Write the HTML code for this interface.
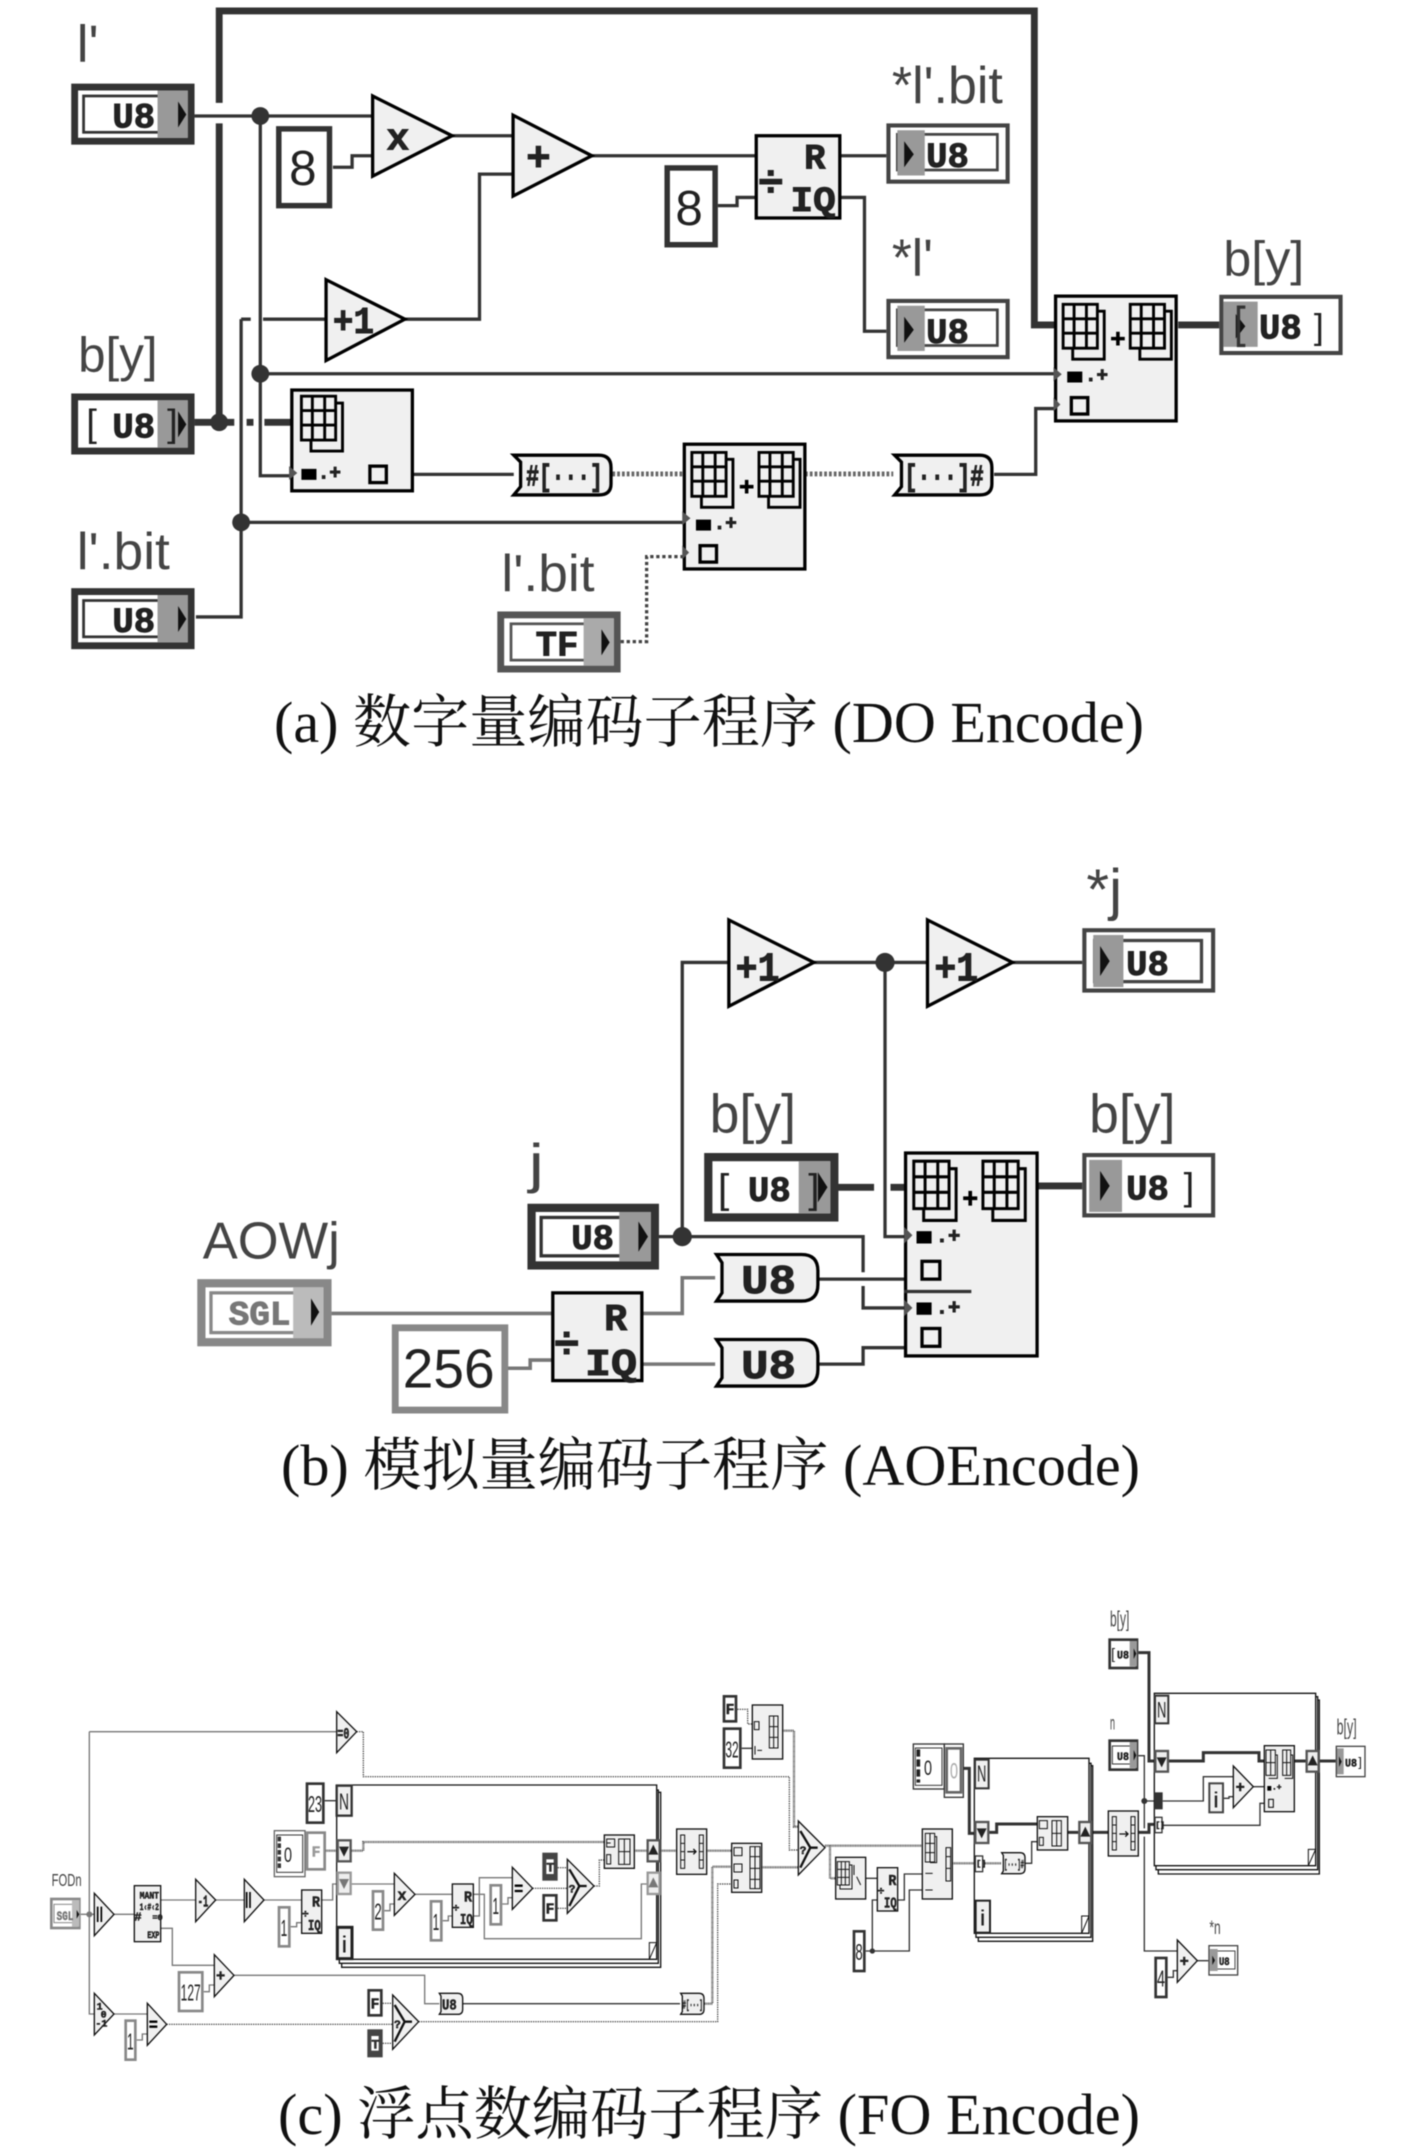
<!DOCTYPE html>
<html><head><meta charset="utf-8"><style>
html,body{margin:0;padding:0;background:#fff}
svg{display:block;filter:blur(.4px)}
.w{fill:none;stroke:#333;stroke-width:2.4}
.t{fill:none;stroke:#333;stroke-width:5}
.dt{fill:none;stroke:#444;stroke-width:2.4;stroke-dasharray:2.4 2}
.pt{fill:none;stroke:#666;stroke-width:3.5;stroke-dasharray:2 1.5}
.gw{fill:none;stroke:#777;stroke-width:2.6}
.b{fill:#f0f0f0;stroke:#000;stroke-width:2.4}
.i{fill:none;stroke:#000;stroke-width:2.1}
.lab{font-family:"Liberation Sans",sans-serif;fill:#444}
.m{font-family:"Liberation Mono",monospace;font-weight:bold;fill:#222;stroke:#222;stroke-width:.7}
.c .m{stroke-width:1.6}
.s{font-family:"Liberation Sans",sans-serif;fill:#222}
.cap{font-family:"Liberation Serif","Noto Serif CJK SC",serif;fill:#111;font-size:58px}
.cw{fill:none;stroke:#333;stroke-width:4}
.cv{fill:none;stroke:#777;stroke-width:4}
.ct{fill:none;stroke:#333;stroke-width:9}
.cd{fill:none;stroke:#333;stroke-width:3.5;stroke-dasharray:4 3}
.cp{fill:none;stroke:#555;stroke-width:7;stroke-dasharray:3 2}
.cb{fill:#f0f0f0;stroke:#111;stroke-width:4}
.ci{fill:none;stroke:#111;stroke-width:3}
.kg{fill:#fff;stroke:#888;stroke-width:8}
.kd{fill:#fff;stroke:#333;stroke-width:8}
.f{fill:none;stroke:#111;stroke-width:4}
</style></head><body>
<svg xmlns="http://www.w3.org/2000/svg" width="1417" height="2150" viewBox="0 0 1417 2150">
<defs>
<g id="grid"><path class="i" d="M0 0h25v32h-25z M8 0v32 M17 0v32 M0 10.5h25 M0 21h25 M25 5h5v35h-23v-8"/></g>
<g id="ctin"><rect x="2.5" y="2.5" width="85" height="39.5" fill="#fff" stroke="#333" stroke-width="5"/><rect x="9" y="9" width="70" height="26.5" fill="none" stroke="#333" stroke-width="2"/><rect x="63" y="5" width="22" height="34.5" fill="#999"/><path d="M78 13l6 9.5l-6 9.5z" fill="#111"/></g>
<g id="ctout"><rect x="1.5" y="1.5" width="87" height="41" fill="#fff" stroke="#444" stroke-width="3"/><rect x="8" y="8" width="73" height="26" fill="none" stroke="#444" stroke-width="2"/><rect x="8" y="5" width="20" height="33" fill="#999"/><path d="M13 13l7 9.5l-7 9.5z" fill="#111"/></g>
<g id="rep"><use href="#grid"/><use href="#grid" transform="translate(49,0)"/><path d="M35 25h10M40 20v10" stroke="#000" stroke-width="2.6"/></g>
</defs>

<!-- (a) -->
<g transform="scale(1.37,1.371)">
<path class="t" d="M160 75V8H755V237H770 M160 90V308 M142 308H171 M180 308H185 M193 308H213 M860 237H890"/>
<path class="w" d="M142 84.6H272 M190 84.6V347H213 M190 272.6H770 M243 122H257V113.6H272 M330 99H374 M432 113.6H552 M176 232.8H183 M192 232.8H238 M295.5 232.8H350V127H374 M176 232.8V450H143 M176 381H499 M302 346H375 M524 150H538V144H552 M613 113.6H647 M613 144H631V241.6H647 M725.6 346H756V298H770"/>
<path class="pt" d="M447 345.7H499 M587.6 345.7H652"/>
<path class="dt" d="M453 468H472V406H499"/>
<circle cx="190" cy="84.6" r="6.5" fill="#333"/><circle cx="160" cy="308" r="6.5" fill="#333"/><circle cx="190" cy="272.6" r="6.5" fill="#333"/><circle cx="176" cy="381" r="6.5" fill="#333"/>

<text class="lab" x="56" y="45" font-size="38" textLength="16" lengthAdjust="spacingAndGlyphs">l'</text>
<text class="lab" x="57" y="271" font-size="36" textLength="58" lengthAdjust="spacingAndGlyphs">b[y]</text>
<text class="lab" x="56" y="415" font-size="38" textLength="68" lengthAdjust="spacingAndGlyphs">l'.bit</text>
<text class="lab" x="366" y="431" font-size="38" textLength="68" lengthAdjust="spacingAndGlyphs">l'.bit</text>
<text class="lab" x="651" y="75" font-size="38" textLength="81" lengthAdjust="spacingAndGlyphs">*l'.bit</text>
<text class="lab" x="651" y="201" font-size="38" textLength="30" lengthAdjust="spacingAndGlyphs">*l'</text>
<text class="lab" x="893" y="201" font-size="36" textLength="59" lengthAdjust="spacingAndGlyphs">b[y]</text>

<use href="#ctin" x="52" y="61"/><text class="m" x="82" y="93" font-size="26">U8</text>
<g transform="translate(52,287)"><rect x="2.5" y="2.5" width="85" height="39.5" fill="#fff" stroke="#333" stroke-width="5"/><rect x="63" y="5" width="22" height="34.5" fill="#999"/><path d="M78 13l6 9.5l-6 9.5z" fill="#111"/><text class="s" x="11" y="31" font-size="28">[</text><text class="s" x="70" y="31" font-size="28">]</text><text class="m" x="30" y="32" font-size="26">U8</text></g>
<use href="#ctin" x="52" y="429"/><text class="m" x="82" y="461" font-size="26">U8</text>
<g transform="translate(363,446)"><rect x="2.5" y="2.5" width="85" height="39.5" fill="#fff" stroke="#555" stroke-width="5"/><rect x="10" y="9" width="68" height="26.5" fill="none" stroke="#555" stroke-width="2"/><rect x="63" y="5" width="22" height="34.5" fill="#aaa"/><path d="M76 13l6 9.5l-6 9.5z" fill="#111"/><text class="m" x="28" y="32" font-size="26" fill="#444">TF</text></g>

<use href="#ctout" x="647" y="90"/><text class="m" x="676" y="122" font-size="26">U8</text>
<use href="#ctout" x="647" y="218"/><text class="m" x="676" y="250" font-size="26">U8</text>
<g transform="translate(890,215)"><rect x="1.5" y="1.5" width="87" height="41" fill="#fff" stroke="#444" stroke-width="3"/><rect x="3" y="5" width="25" height="33" fill="#999"/><path d="M12 14l7 9l-7 9z" fill="#111"/><path class="w" d="M19 9h-5v28h5"/><text class="m" x="29" y="32" font-size="26">U8</text><text class="s" x="69" y="32" font-size="26">]</text></g>

<rect x="203.5" y="94" width="37" height="56" fill="#fff" stroke="#333" stroke-width="4"/><text class="s" x="211" y="135" font-size="36">8</text>
<rect x="487" y="122.5" width="35" height="56" fill="#fff" stroke="#333" stroke-width="4"/><text class="s" x="493" y="164" font-size="36">8</text>

<polygon class="b" points="272,70 330,99 272,128.5"/><text class="m" x="282" y="109" font-size="28">x</text>
<polygon class="b" points="374.5,84 432,113.6 374.5,143"/><text class="m" x="384" y="124" font-size="30">+</text>
<polygon class="b" points="238,204 295.5,232.8 238,263"/><text class="m" x="243" y="243" font-size="28" textLength="30" lengthAdjust="spacingAndGlyphs">+1</text>

<rect class="b" x="552" y="99" width="61" height="60"/><text class="m" x="587" y="123" font-size="26">R</text><text class="m" x="577" y="154" font-size="26" textLength="33" lengthAdjust="spacingAndGlyphs">IQ</text><text class="m" x="553" y="143" font-size="32">÷</text>

<rect class="b" x="213" y="284.5" width="88" height="73.5"/><use href="#grid" x="220" y="289"/><path d="M211 340l6 5l-6 5z" fill="#555"/><rect x="220" y="342" width="11" height="8" fill="#000"/><text class="m" x="232" y="349" font-size="14">.+</text><rect x="270" y="340" width="12" height="12" fill="none" stroke="#000" stroke-width="2.4"/>

<g><path class="b" d="M375 332h62q9 0 9 9v12q0 8 -9 8h-62l5 -6v-18z"/><text class="m" x="384" y="354" font-size="22" textLength="56" lengthAdjust="spacingAndGlyphs">#[···]</text></g>
<g><path class="b" d="M653 332h62q9 0 9 9v12q0 8 -9 8h-62l5 -6v-18z"/><text class="m" x="660" y="354" font-size="22" textLength="58" lengthAdjust="spacingAndGlyphs">[···]#</text></g>

<rect class="b" x="499.5" y="324" width="88" height="91"/><use href="#rep" x="505" y="330"/><path d="M498 373l6 5l-6 5z" fill="#555"/><rect x="508" y="379" width="11" height="8" fill="#000"/><text class="m" x="521" y="386" font-size="14">.+</text><path d="M498 398l5 5l-5 5z" fill="#555"/><rect x="511" y="398" width="12" height="12" fill="none" stroke="#000" stroke-width="2.4"/>
<rect class="b" x="770.5" y="216" width="88" height="91"/><use href="#rep" x="776" y="222"/><path d="M769 268l6 5l-6 5z" fill="#555"/><rect x="779" y="271" width="11" height="8" fill="#000"/><text class="m" x="792" y="278" font-size="14">.+</text><path d="M769 290l5 5l-5 5z" fill="#555"/><rect x="782" y="290" width="12" height="12" fill="none" stroke="#000" stroke-width="2.4"/>
</g>

<!-- (b) -->
<g transform="scale(1.37,1.371)">
<path class="t" d="M609 866H638 M650 866H662 M756 865H790"/>
<path class="w" d="M481 902H630V928 M630 938V954H663 M498 902V702H531 M593 702H676 M646 702V902H663 M737 702H790 M598 933H660 M598 995H630V983H660"/>
<path class="gw" d="M242 958H403 M468 958H498V932H522 M468 995H522 M370 998H387V992H403"/>
<circle cx="498" cy="902" r="7" fill="#333"/><circle cx="646" cy="702" r="7" fill="#333"/>

<text class="lab" x="793" y="663" font-size="42" textLength="26" lengthAdjust="spacingAndGlyphs">*j</text>
<text class="lab" x="518" y="826" font-size="40" textLength="63" lengthAdjust="spacingAndGlyphs">b[y]</text>
<text class="lab" x="795" y="826" font-size="40" textLength="63" lengthAdjust="spacingAndGlyphs">b[y]</text>
<text class="lab" x="386" y="862" font-size="40" textLength="11" lengthAdjust="spacingAndGlyphs">j</text>
<text class="lab" x="148" y="918" font-size="38" textLength="100" lengthAdjust="spacingAndGlyphs">AOWj</text>

<polygon class="b" points="532,671 594,702 532,734"/><text class="m" x="537" y="715" font-size="30" textLength="32" lengthAdjust="spacingAndGlyphs">+1</text>
<polygon class="b" points="677,671 739,702 677,734"/><text class="m" x="682" y="715" font-size="30" textLength="32" lengthAdjust="spacingAndGlyphs">+1</text>

<g transform="translate(790,677)"><rect x="1.5" y="1.5" width="94" height="44" fill="#fff" stroke="#444" stroke-width="3"/><rect x="9" y="9" width="78" height="30" fill="none" stroke="#444" stroke-width="2.4"/><rect x="8" y="5" width="22" height="38" fill="#999"/><path d="M13 13l7 11l-7 11z" fill="#111"/><text class="m" x="32" y="34" font-size="26">U8</text></g>
<g transform="translate(790,841)"><rect x="1.5" y="1.5" width="94" height="44" fill="#fff" stroke="#444" stroke-width="3"/><rect x="5" y="5" width="24" height="38" fill="#999"/><path d="M13 13l7 11l-7 11z" fill="#111"/><text class="m" x="32" y="34" font-size="26">U8</text><text class="s" x="74" y="34" font-size="28">]</text></g>
<g transform="translate(514,841)"><rect x="3" y="3" width="92" height="44" fill="#fff" stroke="#333" stroke-width="6"/><rect x="69" y="6" width="23" height="38" fill="#999"/><path d="M83 14l7 11l-7 11z" fill="#111"/><text class="s" x="10" y="36" font-size="30">[</text><text class="s" x="76" y="36" font-size="30">]</text><text class="m" x="32" y="35" font-size="26">U8</text></g>
<g transform="translate(385,878)"><rect x="3" y="3" width="90" height="42" fill="#fff" stroke="#333" stroke-width="6"/><rect x="10" y="10" width="76" height="28" fill="none" stroke="#333" stroke-width="2.4"/><rect x="67" y="6" width="23" height="36" fill="#999"/><path d="M81 13l7 11l-7 11z" fill="#111"/><text class="m" x="32" y="33" font-size="26">U8</text></g>
<g transform="translate(144,933)"><rect x="3" y="3" width="92" height="43" fill="#fff" stroke="#888" stroke-width="6"/><rect x="10" y="10" width="78" height="29" fill="none" stroke="#888" stroke-width="2.4"/><rect x="70" y="6" width="22" height="37" fill="#bbb"/><path d="M83 14l6 10l-6 10z" fill="#111"/><text class="m" x="23" y="33" font-size="25" style="fill:#777;stroke:#777">SGL</text></g>

<rect x="288.5" y="968.5" width="80" height="60" fill="#fff" stroke="#888" stroke-width="5"/><text class="s" x="294" y="1012" font-size="40" textLength="67" lengthAdjust="spacingAndGlyphs">256</text>

<rect class="b" x="403.5" y="943" width="65" height="64"/><text class="m" x="441" y="970" font-size="28">R</text><text class="m" x="427" y="1003" font-size="28" textLength="38" lengthAdjust="spacingAndGlyphs">IQ</text><text class="m" x="404" y="990" font-size="32">÷</text>

<g><path class="b" d="M523 915h62q12 0 12 12v10q0 12 -12 12h-62l4 -6v-22z"/><text class="m" x="541" y="943" font-size="30" textLength="40" lengthAdjust="spacingAndGlyphs">U8</text></g>
<g><path class="b" d="M523 977h62q12 0 12 12v10q0 12 -12 12h-62l4 -6v-22z"/><text class="m" x="541" y="1005" font-size="30" textLength="40" lengthAdjust="spacingAndGlyphs">U8</text></g>

<rect class="b" x="661" y="841" width="96" height="148"/><use href="#rep" transform="translate(667,847) scale(1.03,1.08)"/><path d="M660 895l6 6l-6 6z" fill="#555"/><rect x="669" y="898" width="11" height="9" fill="#000"/><text class="m" x="683" y="906" font-size="15">.+</text><rect x="673" y="920" width="13" height="13" fill="none" stroke="#000" stroke-width="2.4"/><path d="M660 948l6 6l-6 6z" fill="#555"/><rect x="669" y="950" width="11" height="9" fill="#000"/><text class="m" x="683" y="958" font-size="15">.+</text><rect x="673" y="969" width="13" height="13" fill="none" stroke="#000" stroke-width="2.4"/>
<path class="w" d="M660 942H709"/>
</g>

<!-- (c) -->
<g class="c" transform="translate(30,1680) scale(0.33333)">
<!-- wires -->
<path class="cv" d="M152 703H193 M178 155V1002H193 M178 155H920 M252 703H313 M392 660H497 M557 660H643 M702 660H815 M782 740H800V728H815 M875 660H908V612H920 M392 745H427V856H553 M521 935H538V915H553 M612 886H1184V971H1228 M252 1002H352 M320 1080H337V1062H352 M965 612H1093 M1063 692H1080V672H1093 M1155 643H1267 M1238 722H1255V708H1267 M1330 708H1348V593H1447 M1330 643H1363V776H1834V612H1850 M1417 672H1434V653H1447"/>
<circle cx="178" cy="703" r="9" fill="#777"/>
<path class="cw" d="M1298 971H1950 M884 362H920"/>
<path class="cd" d="M410 1033H1088 M1058 970H1088 M1058 1090H1088 M1166 1025H2063V612H2105 M980 155H1000V290H2278V510H2305 M1508 625H1612 M1583 563H1612 M1583 685H1612 M1692 618H1708V540H1725 M2122 88H2153V132H2167"/>
<path class="cp" d="M887 512H920 M965 512H1000V486H1725 M1813 512H1850 M1892 512H1940 M2030 512H2105 M2024 971H2047V560H2105 M2195 562H2305 M2258 152H2292V440H2305 M2385 497H2677 M2400 497V595H2417 M2767 550H2835 M2860 550H2915"/>
<path class="cw" d="M2135 205H2167 M2507 595H2542 M2603 660H2623V582H2677 M2507 813H2638V630H2677 M2527 813V660H2542 M2985 550H3005V485H3022"/>
<circle cx="2527" cy="813" r="8" fill="#333"/>
<path class="ct" d="M2790 265H2818V460H2833 M2878 457H2900V432H3022 M3113 457H3145 M3187 457H3235 M3325 -82H3357V243H3373 M3417 243H3520V218H3687V243H3703 M3793 243H3827 M3868 243H3917 M3325 457H3357V433H3373"/>
<path class="cw" d="M3325 227H3343V445 M3343 470V813H3442 M3343 363H3373 M3398 363H3520V290H3610 M3582 355H3597V350H3610 M3670 320H3703 M3398 436H3690V370H3703 M3413 892H3430V872H3442 M3502 842H3535"/>
<circle cx="3343" cy="363" r="9" fill="#333"/>

<!-- labels -->
<text class="lab" x="65" y="618" font-size="54" textLength="90" lengthAdjust="spacingAndGlyphs">FODn</text>
<text class="lab" x="3240" y="-160" font-size="66" textLength="58" lengthAdjust="spacingAndGlyphs">b[y]</text>
<text class="lab" x="3240" y="148" font-size="58" textLength="15" lengthAdjust="spacingAndGlyphs">n</text>
<text class="lab" x="3920" y="163" font-size="66" textLength="60" lengthAdjust="spacingAndGlyphs">b[y]</text>
<text class="lab" x="3538" y="762" font-size="58" textLength="34" lengthAdjust="spacingAndGlyphs">*n</text>

<!-- FODn -->
<rect class="kg" x="64" y="657" width="84" height="87"/><rect x="72" y="673" width="60" height="55" fill="none" stroke="#888" stroke-width="3"/><rect x="126" y="660" width="22" height="80" fill="#bbb"/><path d="M140 690l8 13l-8 13z" fill="#111"/><text class="m" x="80" y="720" font-size="38" textLength="50" lengthAdjust="spacingAndGlyphs" style="fill:#777;stroke:#777">SGL</text>

<!-- triangles -->
<polygon class="cb" points="193,640 252,703 193,767"/><path d="M203 680v46M214 680v46" stroke="#000" stroke-width="5"/>
<polygon class="cb" points="193,940 252,1002 193,1065"/><text class="m" x="200" y="988" font-size="30">1</text><text class="m" x="212" y="1012" font-size="30">0</text><text class="m" x="196" y="1040" font-size="30">-1</text>
<polygon class="cb" points="352,970 410,1033 352,1096"/><path d="M358 1025h24M358 1040h24" stroke="#000" stroke-width="7"/>
<polygon class="cb" points="497,598 557,660 497,725"/><text class="m" x="503" y="680" font-size="50" textLength="32" lengthAdjust="spacingAndGlyphs">-1</text>
<polygon class="cb" points="643,598 702,660 643,725"/><path d="M650 636v48M660 636v48" stroke="#000" stroke-width="5"/>
<polygon class="cb" points="553,824 612,886 553,950"/><text class="m" x="558" y="902" font-size="46">+</text>
<polygon class="cb" points="920,95 980,155 920,218"/><text class="m" x="922" y="176" font-size="46" textLength="36" lengthAdjust="spacingAndGlyphs">=0</text>
<polygon class="cb" points="1093,580 1155,643 1093,706"/><text class="m" x="1102" y="660" font-size="46">x</text>
<polygon class="cb" points="1447,562 1508,625 1447,688"/><path d="M1454 617h24M1454 633h24" stroke="#000" stroke-width="7"/>
<polygon class="cb" points="3610,258 3670,320 3610,383"/><text class="m" x="3617" y="336" font-size="46">+</text>
<polygon class="cb" points="3442,780 3502,842 3442,907"/><text class="m" x="3449" y="858" font-size="46">+</text>

<!-- selects -->
<g><polygon class="cb" points="1088,945 1166,1025 1088,1108"/><path d="M1094 975l30 50l-30 60M1124 1025h22" class="ci" style="stroke-width:7"/><text class="m" x="1092" y="1044" font-size="34">?</text></g>
<g><polygon class="cb" points="1612,538 1692,618 1612,700"/><path d="M1618 568l30 50l-30 60M1648 618h22" class="ci" style="stroke-width:7"/><text class="m" x="1616" y="637" font-size="34">?</text></g>
<g><polygon class="cb" points="2305,423 2385,503 2305,585"/><path d="M2311 453l30 50l-30 60M2341 503h22" class="ci" style="stroke-width:7"/><text class="m" x="2309" y="522" font-size="34">?</text></g>

<!-- MANT -->
<rect class="cb" x="313" y="617" width="79" height="168"/><text class="m" x="329" y="655" font-size="30" textLength="58" lengthAdjust="spacingAndGlyphs">MANT</text><text class="m" x="329" y="690" font-size="30" textLength="58" lengthAdjust="spacingAndGlyphs">1‹#‹2</text><text class="m" x="367" y="720" font-size="26">=0</text><text class="m" x="313" y="722" font-size="36">#</text><text class="m" x="352" y="774" font-size="30" textLength="36" lengthAdjust="spacingAndGlyphs">EXP</text>

<!-- R/Q blocks -->
<rect class="cb" x="815" y="630" width="60" height="130"/><text class="m" x="846" y="680" font-size="44" textLength="24" lengthAdjust="spacingAndGlyphs">R</text><text class="m" x="834" y="750" font-size="44" textLength="38" lengthAdjust="spacingAndGlyphs">IQ</text><text class="m" x="816" y="712" font-size="34">÷</text>
<rect class="cb" x="1267" y="612" width="63" height="130"/><text class="m" x="1302" y="664" font-size="44" textLength="24" lengthAdjust="spacingAndGlyphs">R</text><text class="m" x="1290" y="732" font-size="44" textLength="38" lengthAdjust="spacingAndGlyphs">IQ</text><text class="m" x="1268" y="694" font-size="34">÷</text>
<rect class="cb" x="2542" y="563" width="61" height="130"/><text class="m" x="2575" y="615" font-size="44" textLength="24" lengthAdjust="spacingAndGlyphs">R</text><text class="m" x="2562" y="682" font-size="44" textLength="38" lengthAdjust="spacingAndGlyphs">IQ</text><text class="m" x="2543" y="644" font-size="34">÷</text>

<!-- constants -->
<rect class="kg" x="747" y="682" width="31" height="117"/><text class="s" x="752" y="768" font-size="70" textLength="20" lengthAdjust="spacingAndGlyphs">1</text>
<rect class="kg" x="447" y="877" width="70" height="116"/><text class="s" x="452" y="962" font-size="70" textLength="60" lengthAdjust="spacingAndGlyphs">127</text>
<rect class="kg" x="287" y="1022" width="29" height="117"/><text class="s" x="291" y="1108" font-size="70" textLength="20" lengthAdjust="spacingAndGlyphs">1</text>
<rect class="kd" x="831" y="311" width="49" height="117"/><text class="s" x="834" y="396" font-size="70" textLength="42" lengthAdjust="spacingAndGlyphs">23</text>
<rect class="kg" x="1029" y="634" width="30" height="115"/><text class="s" x="1033" y="718" font-size="70" textLength="22" lengthAdjust="spacingAndGlyphs">2</text>
<rect class="kg" x="1203" y="664" width="31" height="117"/><text class="s" x="1208" y="750" font-size="70" textLength="20" lengthAdjust="spacingAndGlyphs">1</text>
<rect class="kg" x="1382" y="616" width="31" height="117"/><text class="s" x="1387" y="702" font-size="70" textLength="20" lengthAdjust="spacingAndGlyphs">1</text>
<rect class="kd" x="2082" y="146" width="49" height="117"/><text class="s" x="2086" y="232" font-size="70" textLength="40" lengthAdjust="spacingAndGlyphs">32</text>
<rect class="kd" x="2472" y="754" width="31" height="119"/><text class="s" x="2476" y="840" font-size="70" textLength="22" lengthAdjust="spacingAndGlyphs">8</text>
<rect class="kd" x="3377" y="834" width="32" height="117"/><text class="s" x="3381" y="920" font-size="70" textLength="24" lengthAdjust="spacingAndGlyphs">4</text>

<!-- booleans -->
<rect class="kd" x="1016" y="931" width="38" height="75"/><text class="m" x="1022" y="985" font-size="44">F</text>
<rect x="1012" y="1048" width="46" height="84" fill="#444"/><rect x="1024" y="1068" width="22" height="44" fill="#fff"/><text class="m" x="1024" y="1105" font-size="40" style="fill:#333">T</text>
<rect x="1537" y="518" width="46" height="84" fill="#444"/><rect x="1549" y="538" width="22" height="44" fill="#fff"/><text class="m" x="1549" y="575" font-size="40" style="fill:#333">T</text>
<rect class="kd" x="1541" y="646" width="38" height="75"/><text class="m" x="1547" y="700" font-size="44">F</text>
<rect class="kd" x="2082" y="49" width="36" height="75"/><text class="m" x="2087" y="102" font-size="44">F</text>

<!-- loop 1 -->
<path class="f" d="M920 315H1880V838H920Z"/><path class="f" d="M928 838V850H1885V330H1880 M935 850V862H1892V337H1885"/><path d="M1858 838L1880 788H1858Z" fill="#fff" stroke="#111" stroke-width="3"/>
<rect x="920" y="317" width="45" height="90" fill="#f0f0f0" stroke="#333" stroke-width="7"/><text class="s" x="927" y="388" font-size="70" textLength="30" lengthAdjust="spacingAndGlyphs">N</text>
<rect x="733" y="452" width="92" height="138" fill="#fff" stroke="#666" stroke-width="4"/><rect x="740" y="465" width="78" height="112" fill="none" stroke="#333" stroke-width="3"/><path d="M748 470v100" stroke="#333" stroke-width="10" stroke-dasharray="14 6"/><text class="s" x="762" y="546" font-size="64" textLength="24" lengthAdjust="spacingAndGlyphs">0</text>
<rect x="831" y="458" width="53" height="110" fill="#fff" stroke="#888" stroke-width="8"/><text class="m" x="845" y="530" font-size="44" style="fill:#999;stroke:#999">F</text>
<rect x="923" y="481" width="39" height="63" fill="#eee" stroke="#555" stroke-width="7"/><path d="M927 500h30l-15 30z" fill="#222"/>
<rect x="923" y="578" width="39" height="64" fill="#eee" stroke="#999" stroke-width="7"/><path d="M927 597h30l-15 30z" fill="#777"/>
<rect x="922" y="742" width="44" height="94" fill="#f0f0f0" stroke="#222" stroke-width="9"/><text class="s" x="934" y="818" font-size="68" textLength="18" lengthAdjust="spacingAndGlyphs">i</text>
<rect x="1853" y="481" width="36" height="63" fill="#eee" stroke="#555" stroke-width="7"/><path d="M1855 524h30l-15 -30z" fill="#222"/>
<rect x="1853" y="578" width="36" height="64" fill="#eee" stroke="#999" stroke-width="7"/><path d="M1855 622h30l-15 -30z" fill="#777"/>

<!-- blocks -->
<rect class="cb" x="1723" y="465" width="90" height="100"/><path class="ci" d="M1730 477h24v24h-24z M1730 524h12v28h-12z M1742 489h-12 M1766 477h34v76h-34z M1783 477v76 M1766 515h34" />
<rect class="cb" x="1940" y="447" width="90" height="136"/><path class="ci" d="M1952 465h12v100h-12z M2008 465h12v100h-12z M1952 490h12 M1952 515h12 M1952 540h12 M2008 490h12 M2008 515h12 M2008 540h12"/><path d="M1972 515h26m-8 -8l8 8l-8 8" fill="none" stroke="#111" stroke-width="4"/>
<rect class="cb" x="2105" y="490" width="90" height="147"/><path class="ci" d="M2112 503h24v24h-24z M2112 552h24v24h-24z M2112 600h12v24h-12z M2160 500h30v126h-30z M2175 500v126 M2160 530h30 M2160 565h30 M2160 598h30"/>
<rect class="cb" x="2167" y="75" width="91" height="162"/><path class="ci" d="M2173 125h14v24h-14z M2218 108h26v96h-26z M2231 108v96 M2218 140h26 M2218 172h26 M2175 198v26 M2182 211h14"/>
<rect class="cb" x="2417" y="532" width="90" height="125"/><path class="ci" d="M2422 545h36v70h-36z M2434 545v70 M2446 545v70 M2422 568h36 M2422 592h36 M2458 555h8v72h-36v-12"/><path class="ci" d="M2472 555v30 M2480 590l12 25"/>
<rect class="cb" x="2677" y="447" width="90" height="210"/><path class="ci" d="M2686 460h28v86h-28z M2700 460v86 M2686 490h28 M2686 518h28 M2714 470h6v78h-20 M2748 503h14v100h-14z M2748 530h14 M2748 565h14 M2686 580h22 M2686 630h22"/>

<!-- casts -->
<path class="cb" d="M1228 940h55q15 0 15 15v33q0 15 -15 15h-55l5 -8v-47z"/><text class="m" x="1236" y="988" font-size="44" textLength="44" lengthAdjust="spacingAndGlyphs">U8</text>
<path class="cb" d="M1952 940h55q15 0 15 15v33q0 15 -15 15h-55l5 -8v-47z"/><text class="m" x="1958" y="986" font-size="36" textLength="60" lengthAdjust="spacingAndGlyphs">#[···]</text>
<path class="cb" d="M2915 518h55q15 0 15 15v33q0 15 -15 15h-55l5 -8v-47z"/><text class="m" x="2922" y="564" font-size="36" textLength="60" lengthAdjust="spacingAndGlyphs">[···]#</text>

<!-- loop 2 -->
<rect x="2650" y="192" width="93" height="135" fill="#fff" stroke="#333" stroke-width="4"/><rect x="2656" y="204" width="80" height="112" fill="none" stroke="#333" stroke-width="3"/><path d="M2665 208v100" stroke="#222" stroke-width="11" stroke-dasharray="22 8"/><text class="s" x="2682" y="285" font-size="64" textLength="24" lengthAdjust="spacingAndGlyphs">0</text>
<rect x="2743" y="192" width="57" height="160" fill="#fff" stroke="#333" stroke-width="4"/><rect x="2750" y="205" width="43" height="132" fill="#fff" stroke="#666" stroke-width="8"/><text class="s" x="2760" y="296" font-size="66" textLength="24" lengthAdjust="spacingAndGlyphs" style="fill:#aaa">0</text>
<path class="f" d="M2833 235H3177V760H2833Z"/><path class="f" d="M2838 760V772H3183V250H3177 M2845 772V784H3188V257H3183"/><path d="M3155 760L3177 708H3155Z" fill="#fff" stroke="#111" stroke-width="3"/>
<rect x="2835" y="239" width="41" height="86" fill="#f0f0f0" stroke="#333" stroke-width="6"/><text class="s" x="2841" y="305" font-size="68" textLength="28" lengthAdjust="spacingAndGlyphs">N</text>
<rect x="2836" y="426" width="39" height="63" fill="#eee" stroke="#555" stroke-width="7"/><path d="M2840 445h30l-15 30z" fill="#222"/>
<rect x="2836" y="528" width="22" height="47" fill="#fff" stroke="#333" stroke-width="4"/><text class="m" x="2838" y="558" font-size="26">[]</text>
<rect x="2837" y="662" width="43" height="96" fill="#f0f0f0" stroke="#222" stroke-width="6"/><text class="s" x="2849" y="736" font-size="66" textLength="18" lengthAdjust="spacingAndGlyphs">i</text>
<rect class="cb" x="3022" y="410" width="91" height="100"/><path class="ci" d="M3028 422h24v24h-24z M3028 472h12v24h-12z M3066 422h28v76h-28z M3080 422v76 M3066 460h28"/>
<rect x="3148" y="426" width="36" height="63" fill="#eee" stroke="#555" stroke-width="7"/><path d="M3151 470h30l-15 -30z" fill="#222"/>
<rect class="cb" x="3235" y="393" width="90" height="135"/><path class="ci" d="M3247 410h12v100h-12z M3303 410h12v100h-12z M3247 435h12 M3247 460h12 M3247 485h12 M3303 435h12 M3303 460h12 M3303 485h12"/><path d="M3268 462h26m-8 -8l8 8l-8 8" fill="none" stroke="#111" stroke-width="4"/>

<!-- right controls -->
<g transform="translate(3235,-125)"><rect x="4" y="4" width="82" height="85" fill="#fff" stroke="#333" stroke-width="8"/><rect x="64" y="8" width="22" height="76" fill="#999"/><path d="M76 30l8 16l-8 16z" fill="#111"/><text class="s" x="8" y="62" font-size="44">[</text><text class="m" x="26" y="60" font-size="34" textLength="36" lengthAdjust="spacingAndGlyphs">U8</text></g>
<g transform="translate(3235,178)"><rect x="4" y="4" width="82" height="87" fill="#fff" stroke="#333" stroke-width="8"/><rect x="12" y="20" width="66" height="54" fill="none" stroke="#333" stroke-width="3"/><rect x="64" y="8" width="22" height="78" fill="#999"/><path d="M76 32l8 16l-8 16z" fill="#111"/><text class="m" x="26" y="62" font-size="34" textLength="36" lengthAdjust="spacingAndGlyphs">U8</text></g>
<g transform="translate(3917,197)"><rect x="2" y="2" width="86" height="91" fill="#fff" stroke="#444" stroke-width="4"/><rect x="4" y="8" width="20" height="78" fill="#999"/><path d="M10 32l8 16l-8 16z" fill="#111"/><text class="m" x="28" y="62" font-size="34" textLength="36" lengthAdjust="spacingAndGlyphs">U8</text><text class="s" x="68" y="62" font-size="40">]</text></g>
<g transform="translate(3535,795)"><rect x="2" y="2" width="86" height="88" fill="#fff" stroke="#444" stroke-width="4"/><rect x="10" y="18" width="70" height="54" fill="none" stroke="#444" stroke-width="3"/><rect x="4" y="12" width="24" height="66" fill="#999"/><path d="M12 32l8 14l-8 14z" fill="#111"/><text class="m" x="32" y="60" font-size="32" textLength="32" lengthAdjust="spacingAndGlyphs">U8</text></g>

<!-- loop 3 -->
<path class="f" d="M3373 40H3857V557H3373Z"/><path class="f" d="M3378 557V569H3863V50H3857 M3385 569V582H3868V60H3863"/><path d="M3835 557L3857 508H3835Z" fill="#fff" stroke="#111" stroke-width="3"/>
<rect x="3375" y="47" width="40" height="83" fill="#f0f0f0" stroke="#333" stroke-width="6"/><text class="s" x="3381" y="112" font-size="66" textLength="28" lengthAdjust="spacingAndGlyphs">N</text>
<rect x="3376" y="213" width="38" height="62" fill="#eee" stroke="#555" stroke-width="7"/><path d="M3380 232h30l-15 30z" fill="#222"/>
<rect x="3373" y="337" width="25" height="51" fill="#333"/>
<rect x="3375" y="412" width="21" height="46" fill="#fff" stroke="#333" stroke-width="4"/><text class="m" x="3376" y="442" font-size="24">[]</text>
<rect x="3538" y="310" width="41" height="87" fill="#f0f0f0" stroke="#444" stroke-width="6"/><text class="s" x="3549" y="382" font-size="66" textLength="18" lengthAdjust="spacingAndGlyphs">i</text>
<rect class="cb" x="3703" y="197" width="90" height="198"/><path class="ci" d="M3708 210h28v76h-28z M3722 210v76 M3708 248h28 M3736 225h6v70h-26 M3758 210h24v76h-24z M3770 210v76 M3758 248h24 M3782 225h6v70h-24"/><rect x="3712" y="318" width="12" height="14" fill="#000"/><text class="m" x="3726" y="328" font-size="24">.+</text><rect x="3716" y="358" width="14" height="24" fill="none" stroke="#000" stroke-width="3"/>
<rect x="3830" y="213" width="36" height="62" fill="#eee" stroke="#555" stroke-width="7"/><path d="M3833 256h30l-15 -30z" fill="#222"/>
</g>

<!-- captions -->
<text class="cap" x="274" y="742" textLength="870" lengthAdjust="spacingAndGlyphs">(a) 数字量编码子程序 (DO Encode)</text>
<text class="cap" x="281" y="1485" textLength="859" lengthAdjust="spacingAndGlyphs">(b) 模拟量编码子程序 (AOEncode)</text>
<text class="cap" x="278" y="2134" textLength="862" lengthAdjust="spacingAndGlyphs">(c) 浮点数编码子程序 (FO Encode)</text>
</svg>
</body></html>
